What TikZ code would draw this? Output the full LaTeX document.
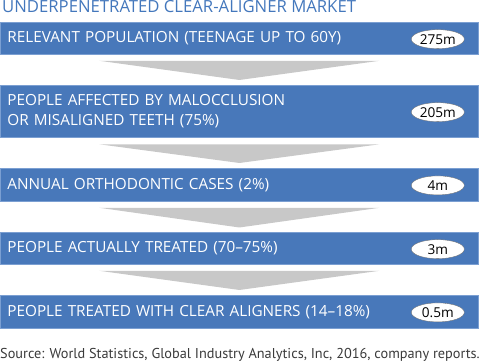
\documentclass[tikz,border=0pt]{standalone}
\usepackage{fontspec}
\setmainfont{PT Sans}
\newfontfamily\barfont{Open Sans}
\usetikzlibrary{calc,shapes.geometric}
\definecolor{barblue}{HTML}{4878BA}
\definecolor{barline}{HTML}{7B9FD2}
\definecolor{titleblue}{HTML}{4377BC}
\definecolor{arrowgray}{HTML}{C8C8C8}
\definecolor{srcgray}{HTML}{3A3A3A}
\begin{document}
\begin{tikzpicture}[x=1pt,y=-1pt,
  bar/.style={draw=barline,line width=0.8pt,fill=barblue,minimum width=478pt,anchor=north west,inner sep=0pt,
    text=white,font=\barfont\fontsize{15.3}{20}\selectfont,align=left,text width=478pt},
  val/.style={ellipse,fill=white,draw=black!60,line width=0.3pt,minimum width=53pt,minimum height=19pt,inner sep=0pt,
    font=\barfont\fontsize{13.6}{16}\selectfont},
  funnel/.style={fill=arrowgray}]
\useasboundingbox (0,0) rectangle (480,363);
\node[anchor=base west,text=titleblue,font=\barfont\fontsize{16.7}{17}\selectfont,inner sep=0pt] (title) at (2,12.5) {UNDERPENETRATED CLEAR-ALIGNER MARKET};
\node[bar,minimum height=31.5pt] (b1) at (0,22.5) {\hspace*{7pt}RELEVANT POPULATION (TEENAGE UP TO 60Y)};
\node[bar,minimum height=52.5pt] (b2) at (0,85) {\hspace*{7pt}PEOPLE AFFECTED BY MALOCCLUSION\\\hspace*{7pt}OR MISALIGNED TEETH (75\%)};
\node[bar,minimum height=33pt] (b3) at (0,168) {\hspace*{7pt}ANNUAL ORTHODONTIC CASES (2\%)};
\node[bar,minimum height=31.5pt] (b4) at (0,232.5) {\hspace*{7pt}PEOPLE ACTUALLY TREATED (70–75\%)};
\node[bar,minimum height=33pt] (b5) at (0,295) {\hspace*{7pt}PEOPLE TREATED WITH CLEAR ALIGNERS (14–18\%)};
\foreach \b/\v in {b1/275m,b2/205m,b3/4m,b4/3m,b5/0.5m}{
  \node[val] (v\b) at ($(\b.east)+(-41,0.5)$) {\v};
}
\foreach \a/\b in {b1/b2,b2/b3,b3/b4,b4/b5}{
  \fill[funnel] ($(\a.south)+(-140,6)$) -- ($(\a.south)+(140,6)$) -- ($(\b.north)+(0,-5)$) -- cycle;
}
\node[anchor=base west,inner sep=0pt,text=srcgray,font=\fontsize{14.3}{16}\selectfont] (src) at (0,358.5) {Source: World Statistics, Global Industry Analytics, Inc, 2016, company reports.};
\end{tikzpicture}
\end{document}
